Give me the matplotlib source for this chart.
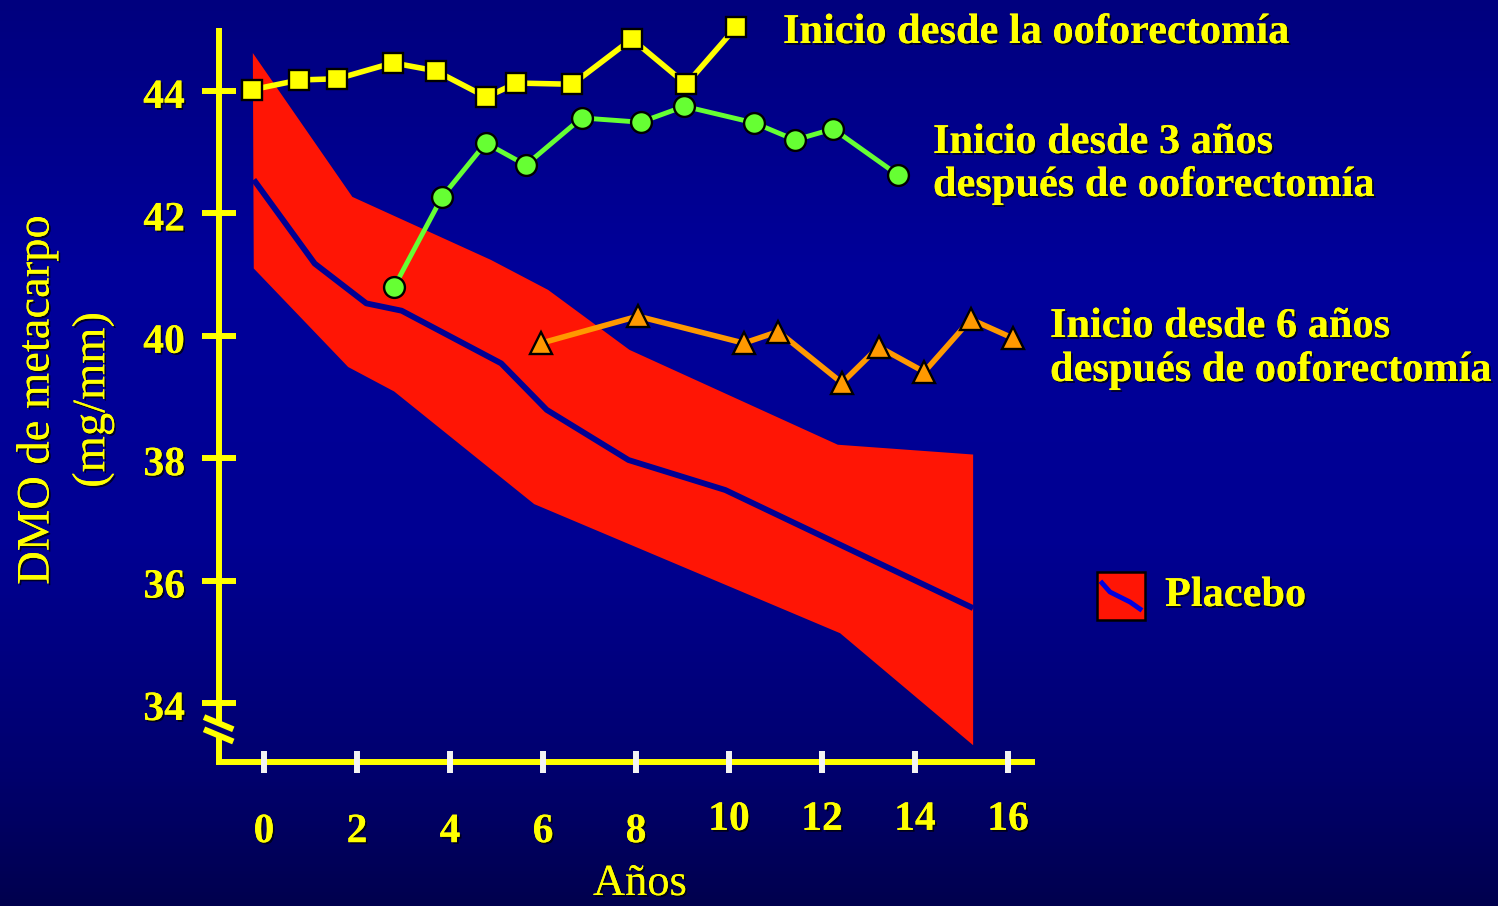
import matplotlib
matplotlib.use("Agg")
import matplotlib.pyplot as plt
import numpy as np
import matplotlib.patheffects as pe
from matplotlib.colors import LinearSegmentedColormap
from matplotlib.patches import Rectangle
from matplotlib.lines import Line2D

# ---------------- data ----------------
years_oof = [-0.26, 0.76, 1.58, 2.77, 3.69, 4.78, 5.43, 6.63, 7.91, 9.08, 10.16]
dmo_oof = [44.02, 44.18, 44.20, 44.46, 44.33, 43.90, 44.13, 44.11, 44.85, 44.11, 45.05]

years_3 = [2.80, 3.83, 4.77, 5.63, 6.83, 8.10, 9.04, 10.54, 11.42, 12.24, 13.63]
dmo_3 = [40.80, 42.27, 43.15, 42.79, 43.56, 43.49, 43.75, 43.48, 43.20, 43.38, 42.63]

years_6 = [5.96, 8.04, 10.32, 11.06, 12.43, 13.22, 14.20, 15.20, 16.11]
dmo_6 = [39.88, 40.32, 39.88, 40.07, 39.23, 39.82, 39.41, 40.27, 39.96]

placebo_upper_x = [-0.24, 1.90, 4.88, 6.11, 7.86, 12.34, 15.25]
placebo_upper_y = [44.62, 42.27, 41.24, 40.75, 39.77, 38.22, 38.06]
placebo_lower_x = [-0.22, 1.81, 2.80, 5.81, 12.39, 15.25]
placebo_lower_y = [41.10, 39.49, 39.09, 37.25, 35.14, 33.31]
placebo_mean_x = [-0.22, 1.09, 2.20, 2.96, 5.10, 6.08, 7.84, 9.92, 15.25]
placebo_mean_y = [42.55, 41.18, 40.53, 40.41, 39.55, 38.79, 37.97, 37.48, 35.55]

x_ticks = [0, 2, 4, 6, 8, 10, 12, 14, 16]
y_ticks = [34, 36, 38, 40, 42, 44]

label_oof = "Inicio desde la ooforectomía"
label_3 = ["Inicio desde 3 años", "después de ooforectomía"]
label_6 = ["Inicio desde 6 años", "después de ooforectomía"]
label_placebo = "Placebo"
ylabel_lines = ["DMO de metacarpo", "(mg/mm)"]
xlabel = "Años"

# ---------------- style ----------------
YELLOW = "#FFFF00"
GREEN = "#66FF33"
ORANGE = "#FF9900"
RED = "#FF1505"
BG_LINE = "#000094"
SERIF = ["Liberation Serif", "DejaVu Serif"]

W, H = 1498, 906
fig = plt.figure(figsize=(W / 100, H / 100), dpi=100)

# background gradient
bg = fig.add_axes([0, 0, 1, 1])
bg.axis("off")
cmap = LinearSegmentedColormap.from_list(
    "bg", [(0.0, "#00007E"), (0.3, "#00009A"), (0.6, "#000092"),
           (0.85, "#00006E"), (1.0, "#00004E")])
grad = np.linspace(0, 1, 256).reshape(-1, 1)
bg.imshow(grad, cmap=cmap, aspect="auto", extent=[0, 1, 0, 1], origin="upper")
bg.set_xlim(0, 1)
bg.set_ylim(0, 1)

# main axes mapped so that the drawing area matches the reference
PX_PER_X = 46.5
PX_PER_Y = 61.2
X_ORIGIN_PX = 264
Y44_PX = 91
ax = fig.add_axes([0, 0, 1, 1])
ax.set_xlim(-X_ORIGIN_PX / PX_PER_X, (W - X_ORIGIN_PX) / PX_PER_X)
ax.set_ylim(44 - (H - Y44_PX) / PX_PER_Y, 44 + Y44_PX / PX_PER_Y)
ax.axis("off")
ax.patch.set_alpha(0)

# placebo band
band_x = list(placebo_upper_x) + list(placebo_lower_x[::-1])
band_y = list(placebo_upper_y) + list(placebo_lower_y[::-1])
ax.fill(band_x, band_y, color=RED, lw=0, zorder=2)
ax.plot(placebo_mean_x, placebo_mean_y, color=BG_LINE, lw=4.2,
        solid_capstyle="butt", zorder=3)

# series
ax.plot(years_oof, dmo_oof, color=YELLOW, lw=4.0, marker="s", ms=15,
        mfc=YELLOW, mec="black", mew=1.7, zorder=6)
ax.plot(years_3, dmo_3, color=GREEN, lw=3.5, marker="o", ms=15,
        mfc=GREEN, mec="black", mew=1.7, zorder=5)
ax.plot(years_6, dmo_6, color=ORANGE, lw=4.0, marker="^", ms=16,
        mfc=ORANGE, mec="black", mew=1.7, zorder=5)

# axes (drawn by hand because of the break)
ax_x = -0.968
x_axis_y = 33.04
ax.plot([ax_x, ax_x], [45.03, 33.69], color=YELLOW, lw=4.3,
        solid_capstyle="butt", zorder=4)
ax.plot([ax_x, ax_x, 16.58], [33.44, x_axis_y, x_axis_y], color=YELLOW, lw=4.3,
        solid_capstyle="butt", solid_joinstyle="miter", zorder=4)
for dy in (0.0, -0.20):
    ax.plot([-1.29, -0.66], [33.77 + dy, 33.57 + dy], color=YELLOW, lw=4.3,
            solid_capstyle="butt", zorder=4)

shadow = [pe.withSimplePatchShadow(offset=(1.3, -1.3), shadow_rgbFace="black",
                                   alpha=0.75), pe.Normal()]

# y ticks and labels
for yv in y_ticks:
    ax.plot([ax_x - 0.366, ax_x + 0.366], [yv, yv], color=YELLOW, lw=4.3,
            solid_capstyle="butt", zorder=4)
    ax.text(-1.70, yv - 7 / PX_PER_Y, str(yv), color=YELLOW, fontsize=30,
            fontweight="bold", family=SERIF, ha="right", va="center",
            path_effects=shadow, zorder=7)

# x ticks and labels
for xv in x_ticks:
    ax.plot([xv, xv], [33.22, 32.86], color="#F4F4F4", lw=4.3,
            solid_capstyle="butt", zorder=5)
    ly = 31.89 if len(str(xv)) == 1 else 32.09
    ax.text(xv, ly, str(xv), color=YELLOW, fontsize=30, fontweight="bold",
            family=SERIF, ha="center", va="center", path_effects=shadow, zorder=7)


def fx(px):
    return px / W


def fy(py):
    return 1 - py / H


# axis titles
fig.text(fx(37), fy(400), ylabel_lines[0], rotation=90, color=YELLOW,
         fontsize=33.5, family=SERIF, ha="center", va="center", path_effects=shadow)
fig.text(fx(93), fy(400), ylabel_lines[1], rotation=90, color=YELLOW,
         fontsize=33.5, family=SERIF, ha="center", va="center", path_effects=shadow)
fig.text(fx(640), fy(904), xlabel, color=YELLOW, fontsize=32, family=SERIF,
         ha="center", va="bottom", path_effects=shadow)

# series annotations
txt_kw = dict(color=YELLOW, fontsize=30.5, fontweight="bold", family=SERIF,
              ha="left", va="baseline", path_effects=shadow)
fig.text(fx(783), fy(43), label_oof, **txt_kw)
fig.text(fx(933), fy(153), label_3[0], **txt_kw)
fig.text(fx(933), fy(196), label_3[1], **txt_kw)
fig.text(fx(1050), fy(337), label_6[0], **txt_kw)
fig.text(fx(1050), fy(381), label_6[1], **txt_kw)
fig.text(fx(1165), fy(606), label_placebo, **txt_kw)

# legend key for placebo
fig.patches.append(Rectangle((fx(1097), fy(620)), fx(48), 48 / H, facecolor=RED,
                             edgecolor="black", lw=1.8, transform=fig.transFigure,
                             figure=fig))
fig.lines.append(Line2D([fx(1102), fx(1110), fx(1130), fx(1140)],
                        [fy(583), fy(592), fy(602), fy(609)], color="#0000E0",
                        lw=3.5, transform=fig.transFigure, figure=fig))

fig.savefig("out.png", dpi=100)
